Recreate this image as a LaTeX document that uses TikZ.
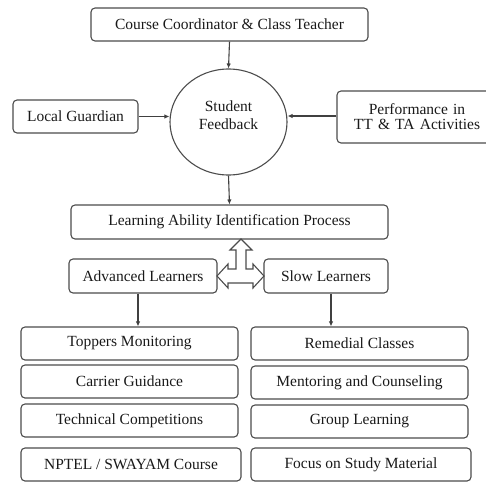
\documentclass[tikz,border=0pt]{standalone}
\usepackage{fontspec}
\setmainfont{Liberation Serif}
\usetikzlibrary{shapes.geometric,arrows.meta}
\tikzset{
  txt/.style={align=center, inner sep=0pt, font=\fontsize{15.5}{17}\selectfont, text=black!90},
  box/.style={txt, draw=black!70, line width=1.1pt, rounded corners=4pt},
  conn/.style={draw=black!75, line width=1.1pt, -{Latex[length=5pt,width=4.5pt]}},
}
\begin{document}
\begin{tikzpicture}[x=1pt,y=-1pt]
\useasboundingbox (0,0) rectangle (486,482);
\clip (0,0) rectangle (486,482);
\node[box, minimum width=277pt, minimum height=33pt] (cc) at (229.5,24.5) {Course Coordinator \& Class Teacher};
\node[box, minimum width=125pt, minimum height=33pt] (lg) at (75.5,116.5) {Local Guardian};
\node[box, minimum width=160pt, minimum height=52pt, text width=160pt] (perf) at (417,117) {Performance in\\[-2pt] TT \& TA Activities};
\node[draw=black!70, line width=1.1pt, ellipse, minimum width=117pt, minimum height=106pt, inner sep=0pt] (circ) at (228.5,122) {};
\node[txt] (circtext) at (228.5,115.5) {Student\\[1pt] Feedback};
\node[box, minimum width=317pt, minimum height=34pt] (learn) at (229.5,222) {Learning Ability Identification Process};
\node[box, minimum width=148pt, minimum height=34pt] (adv) at (143,276) {Advanced Learners};
\node[box, minimum width=124pt, minimum height=34pt] (slow) at (326,276) {Slow Learners};
% left column
\node[box, minimum width=217pt, minimum height=33pt] (top) at (129.5,343.5) {Toppers Monitoring};
\node[box, minimum width=217pt, minimum height=33pt] (car) at (129.5,381.5) {Carrier Guidance};
\node[box, minimum width=217pt, minimum height=33pt] (tech) at (129.5,420.5) {Technical Competitions};
\node[box, minimum width=220pt, minimum height=33pt] (npt) at (131,464.5) {NPTEL / SWAYAM Course};
% right column
\node[box, minimum width=217pt, minimum height=33pt] (rem) at (359.5,343.5) {Remedial Classes};
\node[box, minimum width=217pt, minimum height=33pt] (men) at (359.5,382.5) {Mentoring and Counseling};
\node[box, minimum width=217pt, minimum height=33pt] (grp) at (359.5,421.5) {Group Learning};
\node[box, minimum width=220pt, minimum height=33pt] (foc) at (361,464.5) {Focus on Study Material};
% connectors
\draw[conn] (cc.south) -- (circ.north);
\draw[conn] (lg.east) -- (lg.east -| circ.west);
\draw[conn] ([yshift=1pt]perf.west) -- ([yshift=1pt]perf.west -| circ.east);
\draw[conn] (circ.south) -- (learn.north);
\draw[conn] ([xshift=-5pt]adv.south) -- ([xshift=-5pt]adv.south |- top.north);
\draw[conn] ([xshift=5pt]slow.south) -- ([xshift=5pt]slow.south |- rem.north);
% block arrow
\draw[draw=black!70, line width=1.1pt, fill=white, line join=miter]
  (241,239) -- (252,250) -- (246,250) -- (246,269) -- (253,269) -- (253,264) -- (264,276)
  -- (253,288) -- (253,283) -- (228,283) -- (228,288) -- (217,276) -- (228,264)
  -- (228,269) -- (236,269) -- (236,250) -- (230,250) -- cycle;
\end{tikzpicture}
\end{document}
